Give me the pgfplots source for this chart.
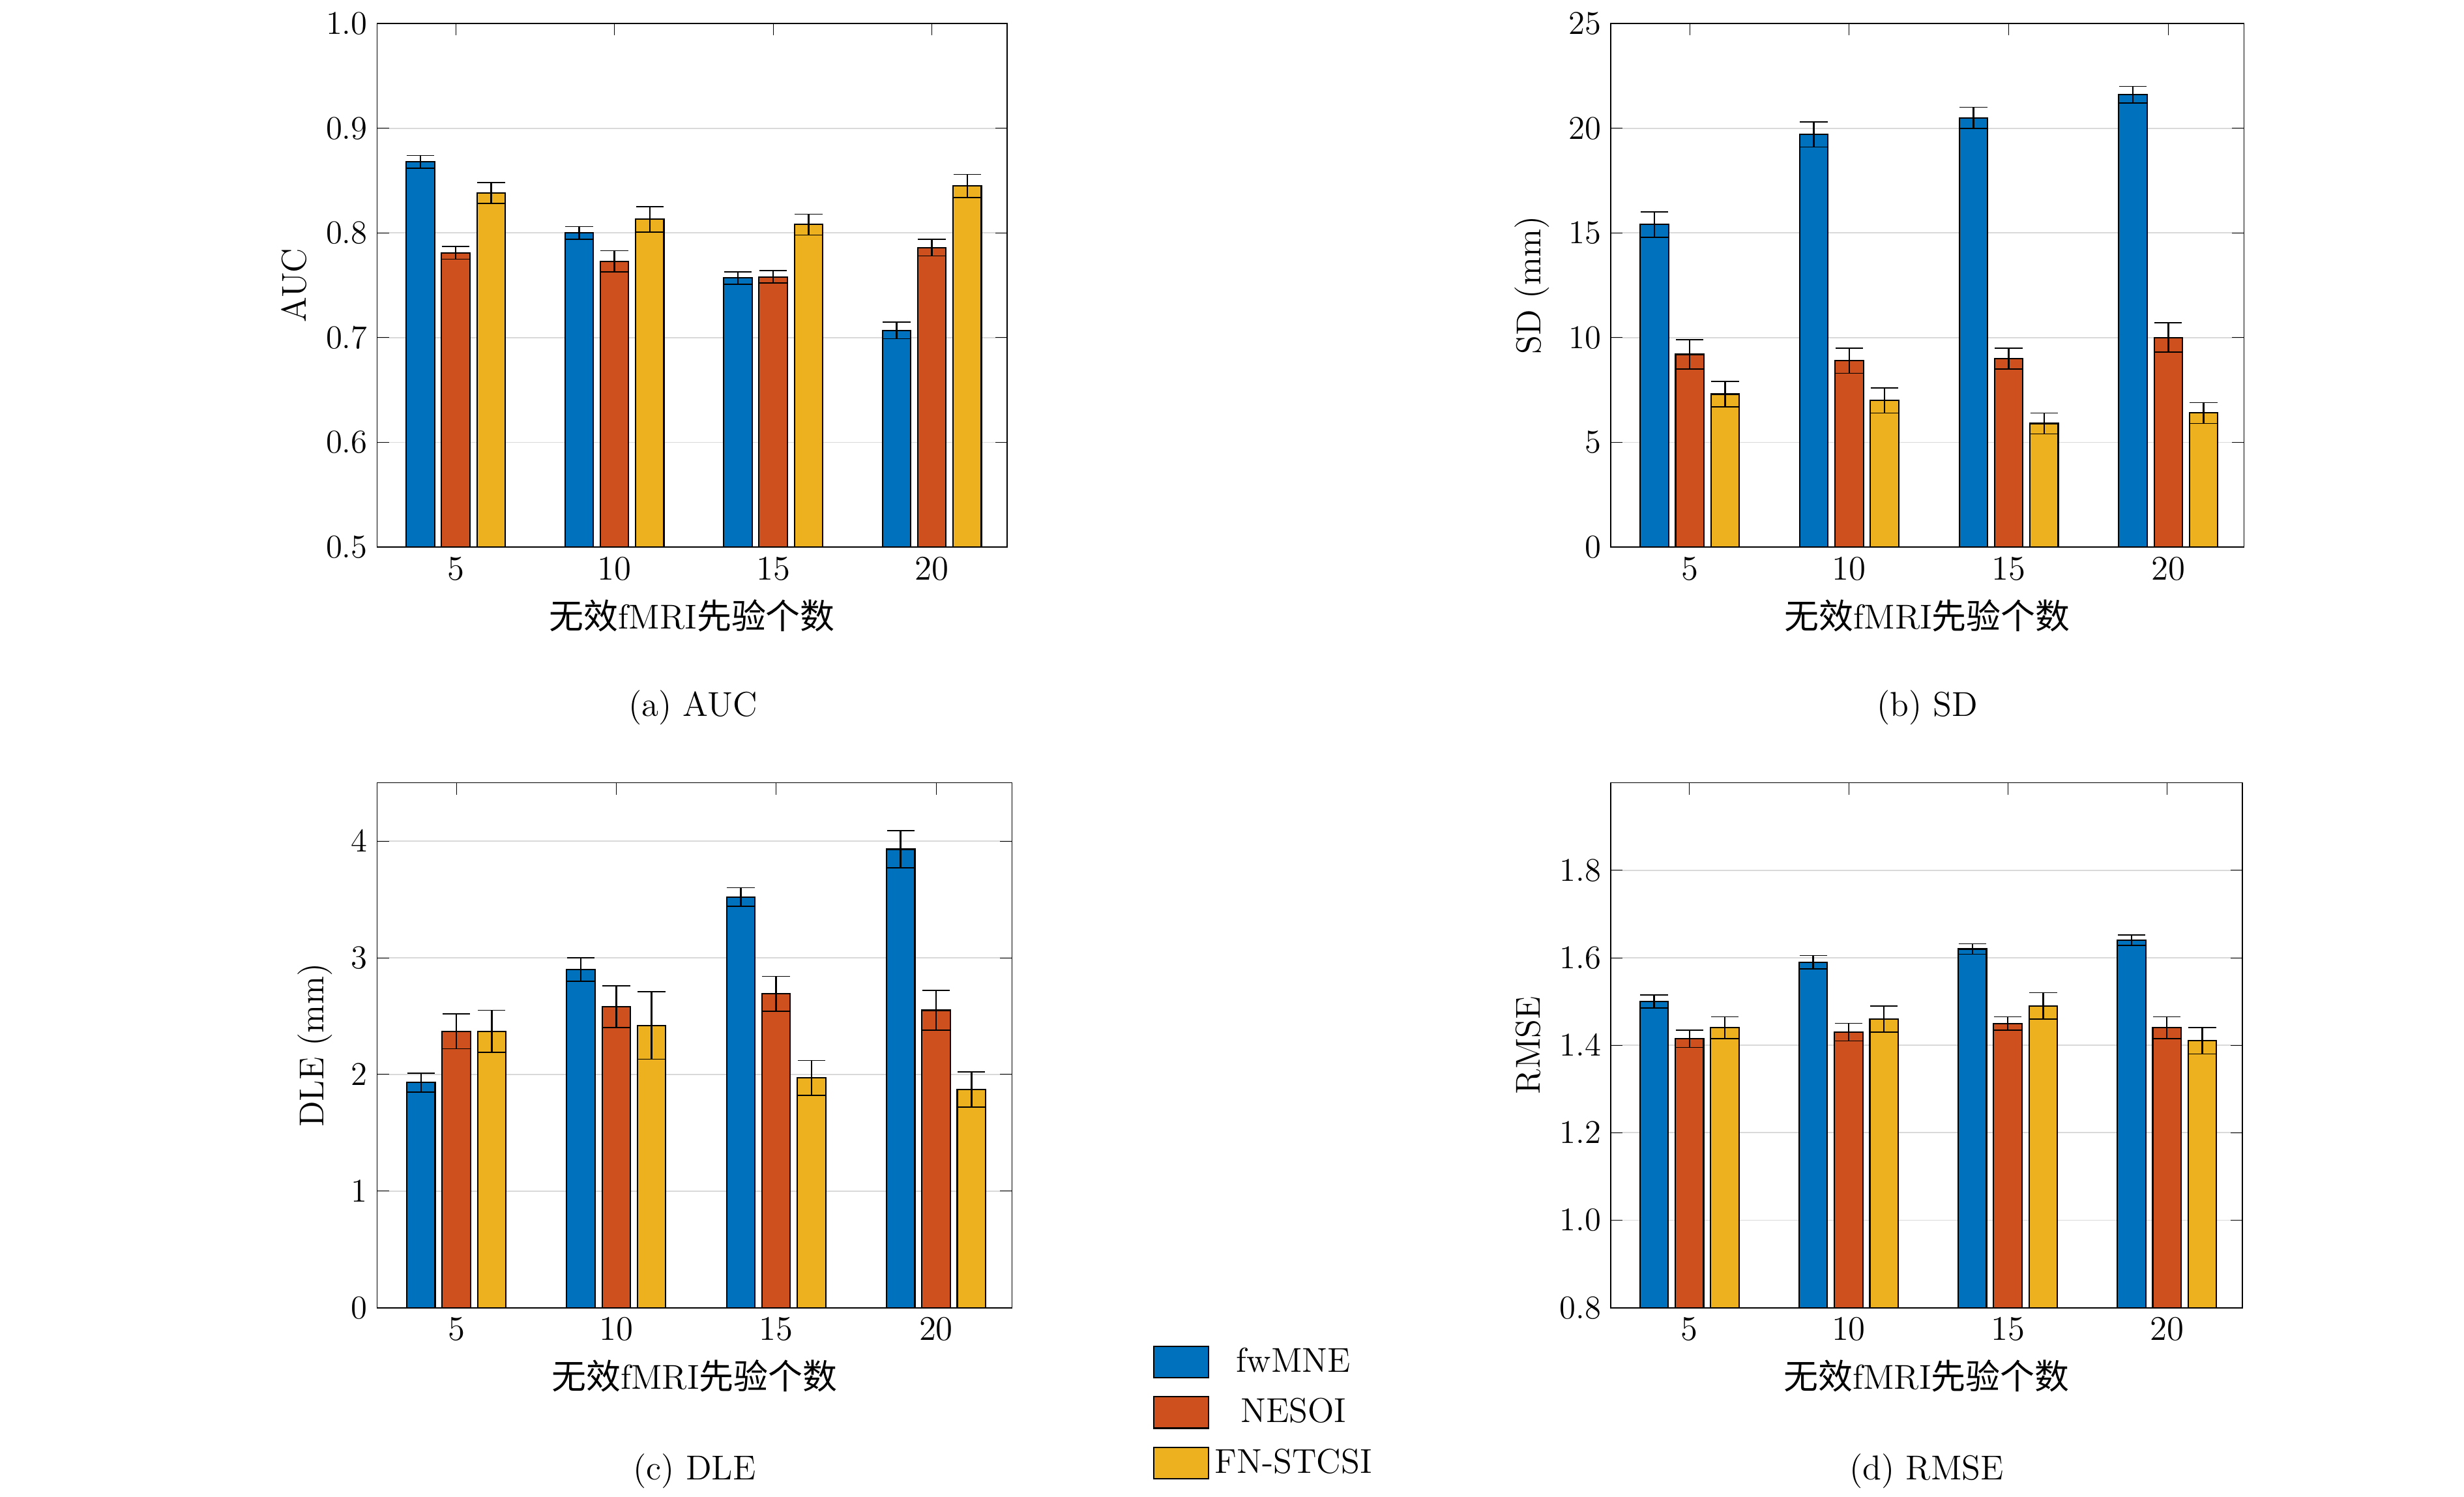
\documentclass[border=0pt]{standalone}
\usepackage{pgfplots}
\pgfplotsset{compat=1.18}
\usepackage{fontspec}
\newfontfamily\cjk{Noto Sans CJK SC}
\definecolor{cb}{RGB}{0,114,189}
\definecolor{cr}{RGB}{205,80,30}
\definecolor{cy}{RGB}{237,177,32}
\pgfplotsset{
  myax/.style={scale only axis, anchor=south west,
    ybar=0pt, bar width=0.36cm,
    xmin=0.505, xmax=4.475, xtick={1,2,3,4}, xticklabels={5,10,15,20},
    ymajorgrids, grid style={gray!30},
    tick align=inside, tick style={black},
    ticklabel style={font=\fontsize{12.5}{14}\selectfont},
    label style={font=\fontsize{12.5}{14}\selectfont},
    xlabel={{\cjk 无效}fMRI{\cjk 先验个数}},
    yticklabel style={/pgf/number format/fixed,/pgf/number format/fixed zerofill,/pgf/number format/precision=1},
  },
  eb/.style={draw=black, line width=0.5pt,
      error bars/y dir=both, error bars/y explicit,
      error bars/error bar style={black,line width=0.6pt},
      error bars/error mark options={rotate=90,mark size=5pt,black}},
  pb/.style={eb, fill=cb, bar shift=-0.45cm},
  pr/.style={eb, fill=cr, bar shift=0cm},
  py/.style={eb, fill=cy, bar shift=0.45cm},
}
\begin{document}
\begin{tikzpicture}
\useasboundingbox (0,0) rectangle (31.36,19.04);
% (a)
\begin{axis}[myax, at={(4.8cm,12.08cm)}, width=8.02cm, height=6.66cm,
  ymin=0.5, ymax=1.0, ytick={0.5,0.6,...,1.0}, ylabel={AUC}]
\addplot[pb] coordinates {(1,0.868)+-(0,0.006) (2,0.800)+-(0,0.006) (3,0.757)+-(0,0.006) (4,0.707)+-(0,0.008)};
\addplot[pr] coordinates {(1,0.781)+-(0,0.006) (2,0.773)+-(0,0.010) (3,0.758)+-(0,0.006) (4,0.786)+-(0,0.008)};
\addplot[py] coordinates {(1,0.838)+-(0,0.010) (2,0.813)+-(0,0.012) (3,0.808)+-(0,0.010) (4,0.845)+-(0,0.011)};
\end{axis}
\node[font=\fontsize{12.5}{14}\selectfont] at (8.82,10.04) {(a) AUC};
% (b)
\begin{axis}[myax, at={(20.5cm,12.08cm)}, width=8.06cm, height=6.66cm,
  ymin=0, ymax=25, ytick={0,5,...,25}, ylabel={SD (mm)},
  yticklabel style={/pgf/number format/precision=0}]
\addplot[pb] coordinates {(1,15.4)+-(0,0.6) (2,19.7)+-(0,0.6) (3,20.5)+-(0,0.5) (4,21.6)+-(0,0.4)};
\addplot[pr] coordinates {(1,9.2)+-(0,0.7) (2,8.9)+-(0,0.6) (3,9.0)+-(0,0.5) (4,10.0)+-(0,0.7)};
\addplot[py] coordinates {(1,7.3)+-(0,0.6) (2,7.0)+-(0,0.6) (3,5.9)+-(0,0.5) (4,6.4)+-(0,0.5)};
\end{axis}
\node[font=\fontsize{12.5}{14}\selectfont] at (24.53,10.04) {(b) SD};
% (c)
\begin{axis}[myax, at={(4.8cm,2.4cm)}, width=8.08cm, height=6.68cm,
  ymin=0, ymax=4.5, ytick={0,1,...,4}, ylabel={DLE (mm)},
  yticklabel style={/pgf/number format/precision=0},
  legend style={at={(1.208,-0.054)}, anchor=north west, draw=none, fill=none,
    font=\fontsize{12.5}{14}\selectfont, row sep=4pt},
  legend image code/.code={\draw[#1] (0cm,-0.2cm) rectangle (0.7cm,0.2cm);}]
\addplot[pb] coordinates {(1,1.93)+-(0,0.08) (2,2.90)+-(0,0.10) (3,3.52)+-(0,0.08) (4,3.93)+-(0,0.16)};
\addplot[pr] coordinates {(1,2.37)+-(0,0.15) (2,2.58)+-(0,0.18) (3,2.69)+-(0,0.15) (4,2.55)+-(0,0.17)};
\addplot[py] coordinates {(1,2.37)+-(0,0.18) (2,2.42)+-(0,0.29) (3,1.97)+-(0,0.15) (4,1.87)+-(0,0.15)};
\legend{fwMNE,NESOI,FN-STCSI}
\end{axis}
\node[font=\fontsize{12.5}{14}\selectfont] at (8.84,0.32) {(c) DLE};
% (d)
\begin{axis}[myax, at={(20.5cm,2.4cm)}, width=8.04cm, height=6.68cm,
  ymin=0.8, ymax=2.0, ytick={0.8,1.0,...,1.81}, ylabel={RMSE}]
\addplot[pb] coordinates {(1,1.50)+-(0,0.015) (2,1.59)+-(0,0.015) (3,1.62)+-(0,0.012) (4,1.64)+-(0,0.012)};
\addplot[pr] coordinates {(1,1.415)+-(0,0.02) (2,1.43)+-(0,0.02) (3,1.45)+-(0,0.015) (4,1.44)+-(0,0.025)};
\addplot[py] coordinates {(1,1.44)+-(0,0.025) (2,1.46)+-(0,0.03) (3,1.49)+-(0,0.03) (4,1.41)+-(0,0.03)};
\end{axis}
\node[font=\fontsize{12.5}{14}\selectfont] at (24.52,0.32) {(d) RMSE};
\end{tikzpicture}
\end{document}
